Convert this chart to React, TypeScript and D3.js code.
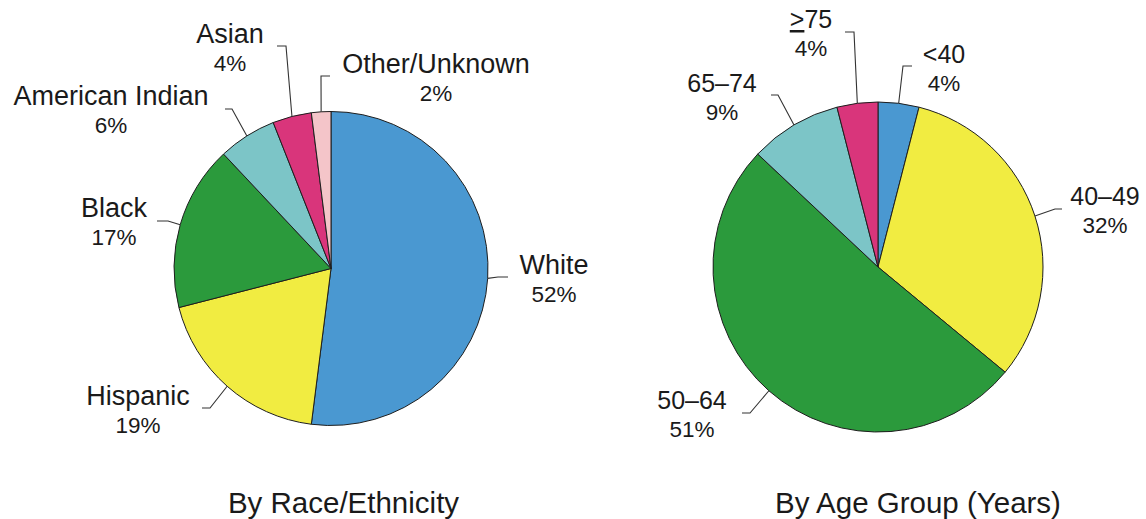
import React from "react";
import * as d3 from "d3";

// ---------- Data ----------
const raceCategories = ["White", "Hispanic", "Black", "American Indian", "Asian", "Other/Unknown"];
const raceValues = [52, 19, 17, 6, 4, 2];
const raceColors = ["#4a98d1", "#f1ec41", "#2b9a3c", "#7cc5c7", "#d9357b", "#f4c5c9"];

const ageCategories = ["<40", "40\u201349", "50\u201364", "65\u201374", ">75"];
const ageValues = [4, 32, 51, 9, 4];
const ageColors = ["#4a98d1", "#f1ec41", "#2b9a3c", "#7cc5c7", "#d9357b"];

const titles = ["By Race/Ethnicity", "By Age Group (Years)"];

// ---------- Layout (label placement, not data) ----------
type LabelPos = { tx: number; ty: number; elbow: [number, number]; end: [number, number] };

const raceLabelPos: LabelPos[] = [
  { tx: 554, ty: 274, elbow: [498, 277], end: [508, 277] },
  { tx: 138, ty: 405, elbow: [210, 408], end: [202, 408] },
  { tx: 114, ty: 217, elbow: [168, 221], end: [157, 221] },
  { tx: 111, ty: 105, elbow: [232, 109], end: [225, 109] },
  { tx: 230, ty: 43, elbow: [286, 46], end: [277, 46] },
  { tx: 436, ty: 73, elbow: [321, 76], end: [330, 76] },
];

const ageLabelPos: LabelPos[] = [
  { tx: 944, ty: 63, elbow: [903, 66], end: [912, 66] },
  { tx: 1105, ty: 205, elbow: [1055, 209], end: [1062, 209] },
  { tx: 692, ty: 409, elbow: [750, 413], end: [742, 413] },
  { tx: 722, ty: 92, elbow: [778, 95], end: [771, 95] },
  { tx: 811, ty: 28, elbow: [854, 32], end: [845, 32] },
];

const FONT = "'Liberation Sans', Arial, Helvetica, sans-serif";

type PieProps = {
  cx: number;
  cy: number;
  r: number;
  categories: string[];
  values: number[];
  colors: string[];
  labels: LabelPos[];
  title: string;
  titleX: number;
  nameSize: number;
};

function Pie({ cx, cy, r, categories, values, colors, labels, title, titleX, nameSize }: PieProps) {
  const pie = d3.pie<number>().sort(null).value((d) => d);
  const arcs = pie(values);
  const arc = d3.arc<d3.PieArcDatum<number>>().innerRadius(0).outerRadius(r);

  return (
    <g>
      <g transform={`translate(${cx},${cy})`}>
        {arcs.map((a, i) => (
          <path key={i} d={arc(a) || ""} fill={colors[i]} stroke="#1e1e1e" strokeWidth={1} strokeLinejoin="round" />
        ))}
      </g>
      {arcs.map((a, i) => {
        const mid = (a.startAngle + a.endAngle) / 2;
        const px = cx + r * Math.sin(mid);
        const py = cy - r * Math.cos(mid);
        const L = labels[i];
        const name = categories[i];
        const isGE = name.startsWith(">");
        return (
          <g key={"l" + i}>
            <polyline
              points={`${px},${py} ${L.elbow[0]},${L.elbow[1]} ${L.end[0]},${L.end[1]}`}
              fill="none"
              stroke="#333"
              strokeWidth={1.1}
            />
            <text x={L.tx} y={L.ty} textAnchor="middle" fontFamily={FONT} fontSize={nameSize} fill="#1a1a1a">
              {isGE ? (
                <>
                  <tspan textDecoration="underline">&gt;</tspan>
                  {name.slice(1)}
                </>
              ) : (
                name
              )}
            </text>
            <text x={L.tx} y={L.ty + 28} textAnchor="middle" fontFamily={FONT} fontSize={22.5} fill="#1a1a1a">
              {values[i]}%
            </text>
          </g>
        );
      })}
      <text x={titleX} y={513} textAnchor="middle" fontFamily={FONT} fontSize={29.5} fill="#1a1a1a">
        {title}
      </text>
    </g>
  );
}

export default function App() {
  return (
    <svg
      width={1146}
      height={519}
      viewBox="0 0 1146 519"
      style={{ position: "absolute", left: 0, top: 0, background: "#ffffff", display: "block" }}
    >
      <rect x={0} y={0} width={1146} height={519} fill="#ffffff" />
      <Pie
        cx={331}
        cy={268.5}
        r={157}
        categories={raceCategories}
        values={raceValues}
        colors={raceColors}
        labels={raceLabelPos}
        title={titles[0]}
        titleX={343.5}
        nameSize={27}
      />
      <Pie
        cx={878}
        cy={267}
        r={165}
        categories={ageCategories}
        values={ageValues}
        colors={ageColors}
        labels={ageLabelPos}
        title={titles[1]}
        titleX={918}
        nameSize={25}
      />
    </svg>
  );
}
